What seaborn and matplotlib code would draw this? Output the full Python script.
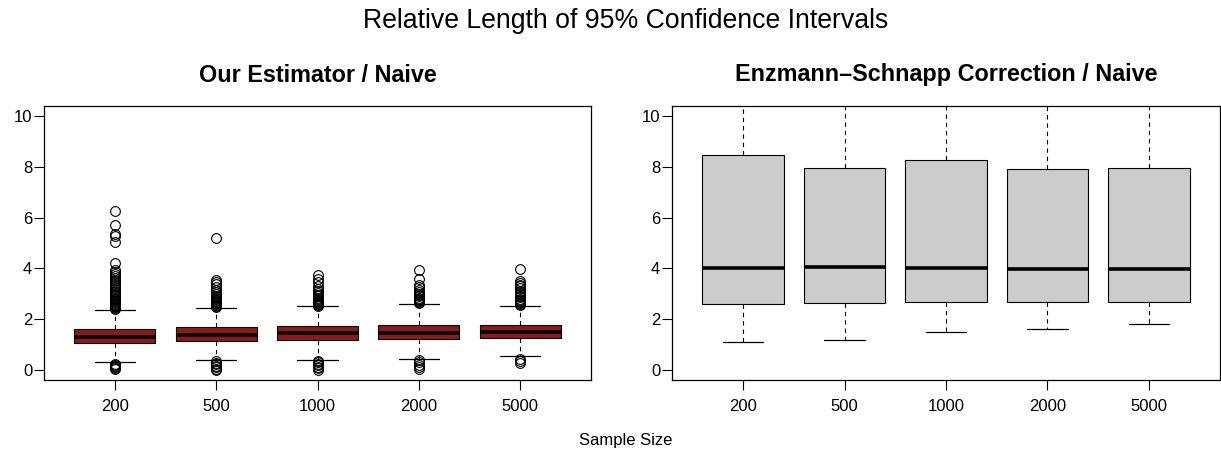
import matplotlib
matplotlib.use("Agg")
import matplotlib.pyplot as plt
import seaborn as sns

# ---------------- data ----------------
sample_sizes = ["200", "500", "1000", "2000", "5000"]

# Left panel: Our Estimator / Naive
ours_whislo = [0.29, 0.40, 0.40, 0.42, 0.53]
ours_q1 = [1.06, 1.15, 1.19, 1.21, 1.24]
ours_med = [1.28, 1.36, 1.44, 1.45, 1.50]
ours_q3 = [1.61, 1.67, 1.74, 1.78, 1.78]
ours_whishi = [2.37, 2.44, 2.51, 2.60, 2.51]
ours_out_200 = [6.25, 5.72, 5.35, 5.28, 5.02, 4.22, 3.95, 3.85, 3.78, 3.70, 3.62,
                3.55, 3.50, 3.42, 3.35, 3.28, 3.20, 3.12, 3.05, 3.00, 2.95, 2.90,
                2.85, 2.80, 2.75, 2.70, 2.66, 2.62, 2.58, 2.55, 2.52, 2.49, 2.46,
                2.43, 2.41, 0.22, 0.18, 0.14, 0.10, 0.06, 0.02]
ours_out_500 = [5.20, 3.55, 3.45, 3.38, 3.25, 3.15, 3.05, 2.98, 2.92, 2.87, 2.82,
                2.78, 2.74, 2.70, 2.66, 2.62, 2.59, 2.56, 2.53, 2.50, 2.47,
                0.33, 0.28, 0.22, 0.16, 0.10, 0.05, 0.01]
ours_out_1000 = [3.72, 3.58, 3.45, 3.32, 3.20, 3.10, 3.02, 2.95, 2.90, 2.85, 2.80,
                 2.76, 2.72, 2.68, 2.64, 2.61, 2.58, 2.55, 2.53,
                 0.35, 0.30, 0.24, 0.18, 0.12, 0.06, 0.01]
ours_out_2000 = [3.93, 3.60, 3.35, 3.25, 3.15, 3.08, 3.00, 2.95, 2.90, 2.85, 2.80,
                 2.76, 2.72, 2.69, 2.66, 2.63,
                 0.38, 0.30, 0.20, 0.10, 0.02]
ours_out_5000 = [3.96, 3.50, 3.42, 3.36, 3.30, 3.22, 3.12, 3.05, 2.98, 2.92, 2.86,
                 2.80, 2.75, 2.70, 2.66, 2.62, 2.58, 2.55,
                 0.43, 0.35, 0.28]
ours_outliers = [ours_out_200, ours_out_500, ours_out_1000, ours_out_2000, ours_out_5000]

# Right panel: Enzmann-Schnapp Correction / Naive
es_whislo = [1.10, 1.19, 1.48, 1.62, 1.82]
es_q1 = [2.61, 2.64, 2.68, 2.66, 2.67]
es_med = [4.01, 4.05, 4.01, 3.98, 3.99]
es_q3 = [8.47, 7.97, 8.26, 7.91, 7.95]
es_whishi = [12.0, 12.0, 12.0, 12.0, 12.0]  # upper whiskers run past the top of the plot

main_title = "Relative Length of 95% Confidence Intervals"
left_title = "Our Estimator / Naive"
right_title = "Enzmann\u2013Schnapp Correction / Naive"
x_label = "Sample Size"

# ---------------- style ----------------
sns.set_theme(style="white")
plt.rcParams["font.family"] = ["Liberation Sans", "DejaVu Sans"]
plt.rcParams["text.color"] = "black"
plt.rcParams["axes.labelcolor"] = "black"
plt.rcParams["xtick.color"] = "black"
plt.rcParams["ytick.color"] = "black"

W, H = 1221, 454
fig = plt.figure(figsize=(W / 100, H / 100), dpi=100)
ax1 = fig.add_axes([44 / W, 74 / H, 547 / W, 274 / H])
ax2 = fig.add_axes([672 / W, 74 / H, 548 / W, 274 / H])


def make_stats(lo, q1, med, q3, hi, fliers):
    stats = []
    for i in range(len(sample_sizes)):
        stats.append(dict(whislo=lo[i], q1=q1[i], med=med[i], q3=q3[i],
                          whishi=hi[i], fliers=fliers[i], label=sample_sizes[i]))
    return stats


def draw(ax, stats, fill):
    positions = list(range(1, len(stats) + 1))
    ax.bxp(stats, positions=positions, widths=0.8, capwidths=0.4,
           patch_artist=True, showfliers=True,
           boxprops=dict(facecolor=fill, edgecolor="black", linewidth=0.8),
           medianprops=dict(color="black", linewidth=2.6, solid_capstyle="butt"),
           whiskerprops=dict(color="black", linewidth=0.8, linestyle=(0, (4, 3.5))),
           capprops=dict(color="black", linewidth=0.9),
           flierprops=dict(marker="o", markerfacecolor="none",
                           markeredgecolor="black", markersize=7, markeredgewidth=0.8))
    ax.set_xlim(0.3, len(stats) + 0.7)
    ax.set_ylim(-0.4, 10.4)
    ax.set_yticks([0, 2, 4, 6, 8, 10])
    ax.set_xticks(positions)
    ax.set_xticklabels(sample_sizes)
    for sp in ax.spines.values():
        sp.set_visible(True)
        sp.set_color("black")
        sp.set_linewidth(0.9)
    ax.tick_params(axis="both", which="major", direction="out", length=7,
                   width=0.8, color="black", labelsize=12, labelcolor="black",
                   left=True, bottom=True)
    ax.tick_params(axis="y", pad=1.5)
    ax.tick_params(axis="x", pad=7)
    ax.grid(False)
    ax.set_facecolor("white")


draw(ax1, make_stats(ours_whislo, ours_q1, ours_med, ours_q3, ours_whishi, ours_outliers),
     "#8B1A1A")
draw(ax2, make_stats(es_whislo, es_q1, es_med, es_q3, es_whishi, [[] for _ in sample_sizes]),
     "#CCCCCC")

fig.text(626 / W, 1 - 21 / H, main_title, ha="center", va="center", fontsize=19.2,
         color="black")
fig.text((44 + 591) / 2 / W, 1 - 75 / H, left_title, ha="center", va="center",
         fontsize=16.8, fontweight="bold", color="black")
fig.text((672 + 1220) / 2 / W, 1 - 75 / H, right_title, ha="center", va="center",
         fontsize=16.8, fontweight="bold", color="black")
fig.text(626 / W, 1 - 440 / H, x_label, ha="center", va="center", fontsize=12,
         color="black")

fig.savefig("out.png", dpi=100)
